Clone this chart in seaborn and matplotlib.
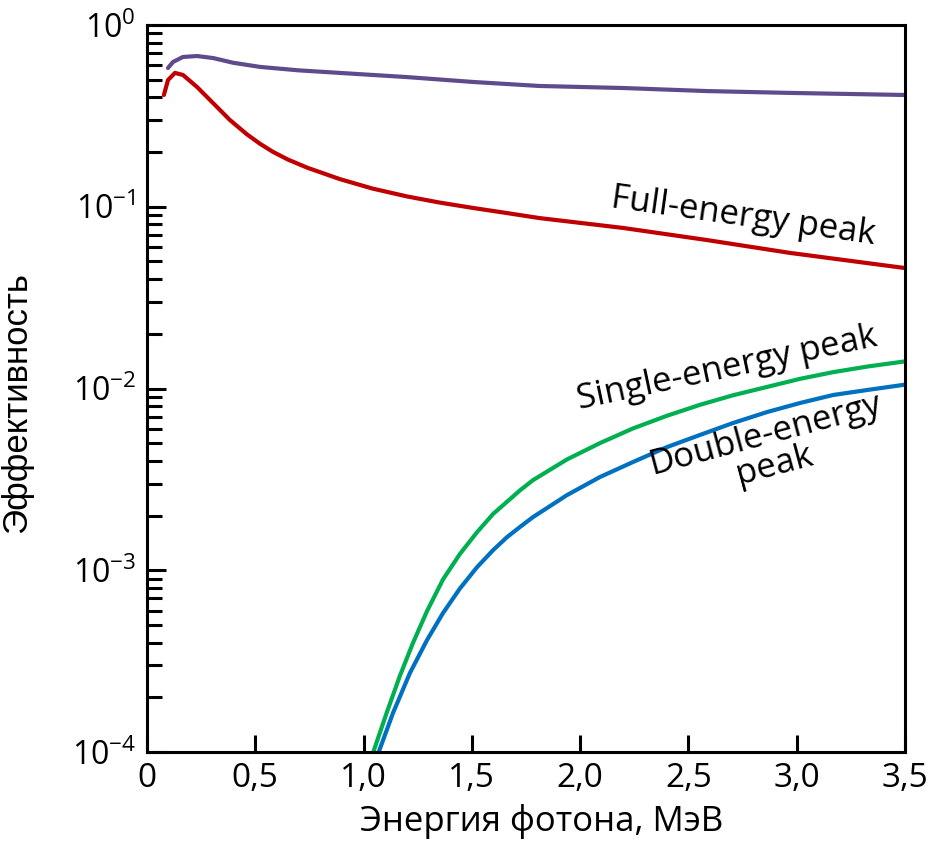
import numpy as np
import pandas as pd
import matplotlib
matplotlib.use("Agg")
import matplotlib.pyplot as plt
import matplotlib.ticker as mticker
import seaborn as sns

# ---- data ----
total_x = [0.097, 0.12, 0.166, 0.231, 0.305, 0.397, 0.522, 0.70, 0.89, 1.20, 1.505, 1.81, 2.20, 2.585, 2.97, 3.5]
total_y = [0.58, 0.626, 0.667, 0.675, 0.658, 0.620, 0.588, 0.563, 0.545, 0.517, 0.486, 0.462, 0.45, 0.433, 0.423, 0.412]

full_x = [0.078, 0.097, 0.129, 0.166, 0.231, 0.305, 0.383, 0.462, 0.522, 0.58, 0.65, 0.74, 0.89, 1.04, 1.20, 1.35, 1.505, 1.66, 1.81, 2.20, 2.585, 2.97, 3.5]
full_y = [0.412, 0.498, 0.545, 0.531, 0.456, 0.372, 0.300, 0.250, 0.222, 0.201, 0.182, 0.164, 0.142, 0.126, 0.114, 0.1055, 0.0985, 0.0924, 0.0867, 0.0764, 0.0656, 0.0557, 0.046]

single_x = [1.045, 1.108, 1.168, 1.228, 1.293, 1.367, 1.445, 1.524, 1.598, 1.722, 1.782, 1.939, 2.092, 2.244, 2.401, 2.553, 2.706, 2.863, 3.015, 3.168, 3.325, 3.5]
single_y = [1.0e-4, 1.66e-4, 2.63e-4, 3.98e-4, 5.96e-4, 8.91e-4, 1.23e-3, 1.62e-3, 2.04e-3, 2.75e-3, 3.13e-3, 4.07e-3, 5.01e-3, 6.03e-3, 7.08e-3, 8.13e-3, 9.18e-3, 0.0102, 0.0113, 0.0123, 0.0132, 0.0141]

double_x = [1.07, 1.136, 1.214, 1.293, 1.367, 1.445, 1.524, 1.598, 1.662, 1.722, 1.782, 1.939, 2.092, 2.244, 2.401, 2.553, 2.706, 2.863, 3.015, 3.168, 3.325, 3.5]
double_y = [1.0e-4, 1.64e-4, 2.72e-4, 4.13e-4, 5.82e-4, 7.94e-4, 1.04e-3, 1.29e-3, 1.52e-3, 1.73e-3, 1.96e-3, 2.59e-3, 3.26e-3, 3.94e-3, 4.76e-3, 5.55e-3, 6.46e-3, 7.42e-3, 8.32e-3, 9.21e-3, 9.81e-3, 0.0105]

x_ticks = [0, 0.5, 1.0, 1.5, 2.0, 2.5, 3.0, 3.5]
x_ticklabels = ["0", "0,5", "1,0", "1,5", "2,0", "2,5", "3,0", "3,5"]
series_names = ["total", "full", "single", "double"]
series_colors = ["#5F4B8B", "#C00000", "#00B050", "#0070C0"]

xlabel = "Энергия фотона, МэВ"
ylabel = "Эффективность"
label_full = "Full-energy peak"
label_single = "Single-energy peak"
label_double = "Double-energy\npeak"

# ---- build long table ----
frames = []
for name, xs, ys in zip(series_names,
                        [total_x, full_x, single_x, double_x],
                        [total_y, full_y, single_y, double_y]):
    frames.append(pd.DataFrame({"E": xs, "eff": ys, "series": name}))
df = pd.concat(frames, ignore_index=True)

# ---- style ----
sns.set_style("ticks")
plt.rcParams["font.family"] = ["Open Sans", "DejaVu Sans"]
plt.rcParams["mathtext.fontset"] = "custom"
plt.rcParams["mathtext.rm"] = "Open Sans"
plt.rcParams["mathtext.it"] = "Open Sans"
plt.rcParams["mathtext.bf"] = "Open Sans"
plt.rcParams["axes.unicode_minus"] = True
plt.rcParams["text.color"] = "black"
plt.rcParams["axes.labelcolor"] = "black"
plt.rcParams["xtick.color"] = "black"
plt.rcParams["ytick.color"] = "black"

fig = plt.figure(figsize=(9.33, 8.41), dpi=100)
ax = fig.add_axes([147/933, 89/841, 758/933, 727/841])

sns.lineplot(data=df, x="E", y="eff", hue="series", hue_order=series_names,
             palette=dict(zip(series_names, series_colors)), estimator=None,
             sort=False, linewidth=3, legend=False, ax=ax)
for ln in ax.get_lines():
    ln.set_solid_joinstyle("round")
    ln.set_solid_capstyle("round")

ax.set_yscale("log")
ax.set_xlim(0, 3.5)
ax.set_ylim(1e-4, 1)

ax.set_xticks(x_ticks)
ax.set_xticklabels(x_ticklabels)
ax.yaxis.set_major_locator(mticker.LogLocator(base=10, numticks=10))
ax.yaxis.set_minor_locator(mticker.LogLocator(base=10, subs=np.arange(2, 10), numticks=20))
ax.yaxis.set_minor_formatter(mticker.NullFormatter())

ax.tick_params(axis="both", which="major", direction="in", width=2.2,
               colors="black")
ax.tick_params(axis="y", which="major", length=14, pad=8, labelsize=23)
ax.tick_params(axis="y", which="minor", direction="in", length=11, width=2.2)
ax.tick_params(axis="x", which="major", length=12.5, pad=7, labelsize=24)
ax.tick_params(axis="x", which="minor", length=0)
for s in ax.spines.values():
    s.set_linewidth(2.2)
    s.set_color("black")

ax.set_xlabel(xlabel, fontsize=25)
ax.xaxis.set_label_coords(0.52, -0.072)
ax.set_ylabel(ylabel, fontsize=25, family=["Liberation Sans", "DejaVu Sans"])
ax.yaxis.set_label_coords(-0.150, 0.481)

ax.text(0.786, 0.736, label_full, transform=ax.transAxes, fontsize=25,
        rotation=-8, ha="center", va="center", rotation_mode="anchor")
ax.text(0.765, 0.528, label_single, transform=ax.transAxes, fontsize=25,
        rotation=12, ha="center", va="center", rotation_mode="anchor")
ax.text(0.822, 0.415, label_double, transform=ax.transAxes, fontsize=25,
        rotation=15, ha="center", va="center", rotation_mode="anchor",
        multialignment="center", linespacing=0.9)

fig.savefig("out.png", dpi=100)
